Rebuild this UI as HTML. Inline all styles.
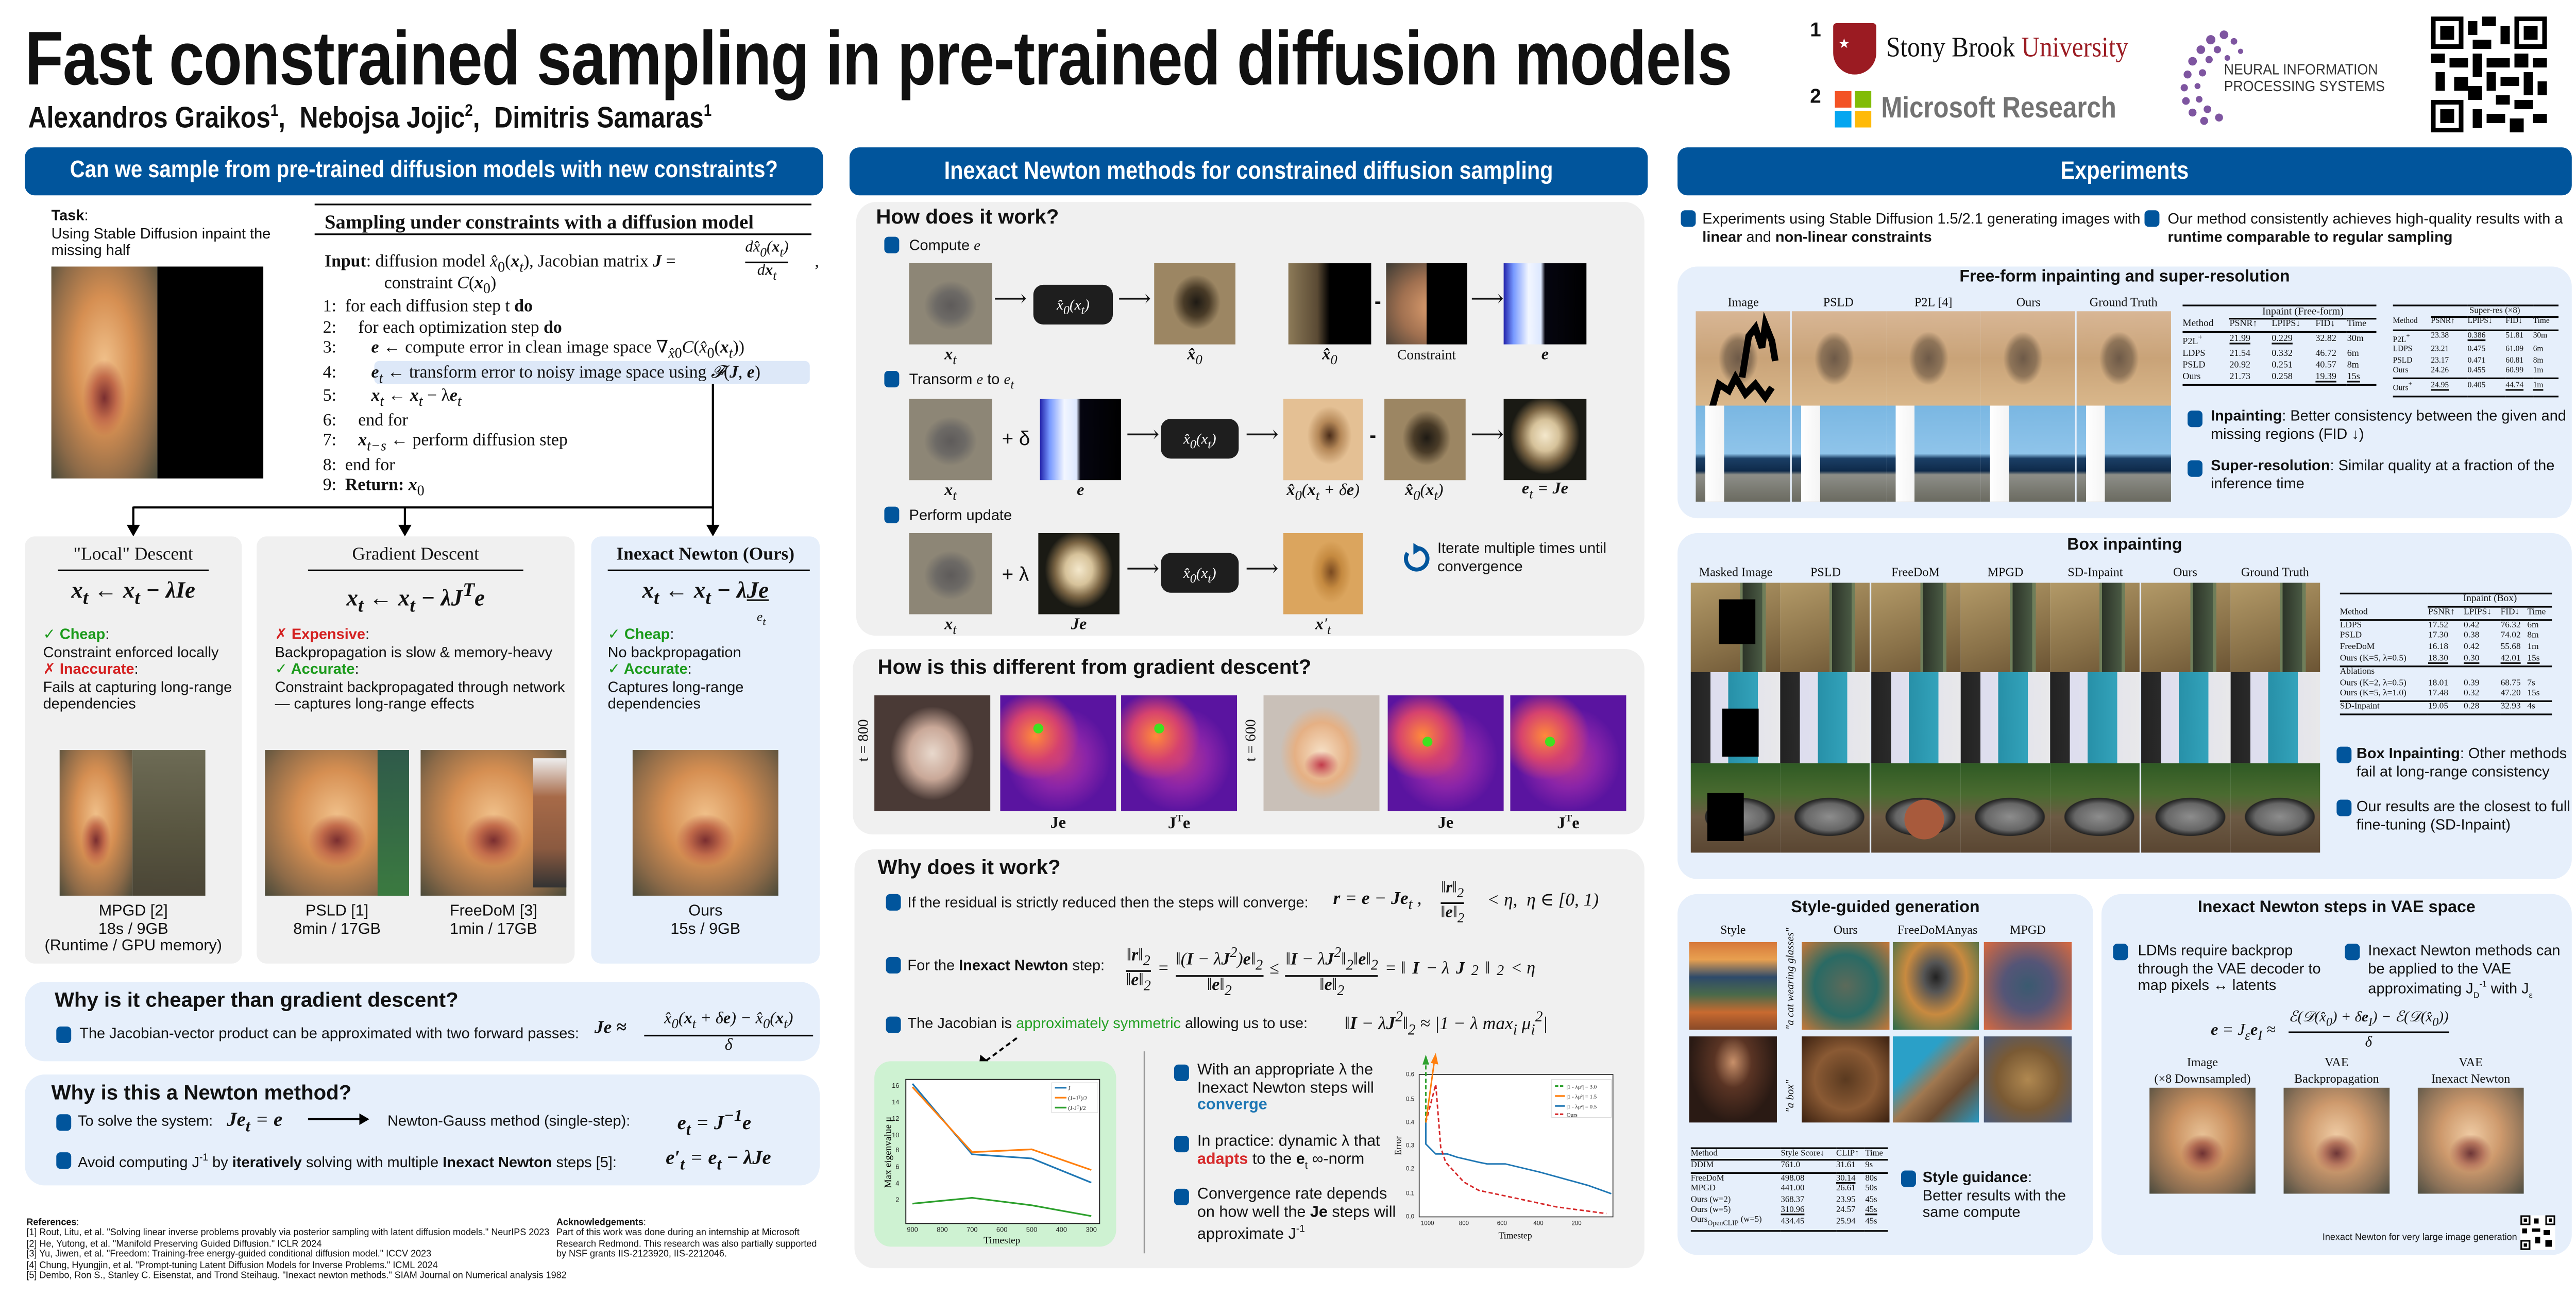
<!DOCTYPE html>
<html><head><meta charset="utf-8">
<style>
*{margin:0;padding:0;box-sizing:border-box}
html,body{width:5040px;height:2520px;overflow:hidden;background:#fff}
#p{position:absolute;left:0;top:0;width:1568px;height:784px;transform:scale(3.21429);transform-origin:0 0;font-family:"Liberation Sans","DejaVu Sans",sans-serif;color:#111}
.a{position:absolute}
.s{font-family:"Liberation Serif","DejaVu Serif",serif}
.i{font-style:italic}
.b{font-weight:bold}
.hdr{position:absolute;top:89px;height:29px;background:#01559c;border-radius:6px;color:#fff;font-weight:bold;font-size:15px;line-height:29px;white-space:nowrap;overflow:hidden}
.hdr span{position:absolute;left:50%;top:0;transform:translateX(-50%) scaleX(0.86)}
.box{position:absolute;border-radius:12px}
.g{background:#f0f0f0}
.lb{background:#e6effb}
.bul{position:absolute;width:9px;height:10px;background:#01559c;border-radius:2.5px}
.t9{font-size:9px;line-height:10.5px}
.t10{font-size:10px;line-height:11.5px}
.h{font-weight:bold;font-size:12.5px}
.cat{background:radial-gradient(ellipse 45% 40% at 50% 62%,#7a2e30 0%,#c16a4a 25%,transparent 45%),radial-gradient(ellipse at 50% 45%,#f0c08a 0%,#d68f52 40%,#8c6a48 75%,#4a4a3a 100%)}
.noise{background:radial-gradient(ellipse 40% 38% at 50% 52%,#5e5b5a 0%,#6d6a66 45%,#8d8676 80%),#8d8676}
.blur{background:radial-gradient(ellipse 35% 40% at 52% 48%,#1e1a14 0%,#4a3c28 45%,#9c8663 85%),#a08a64}
.err{background:linear-gradient(90deg,#2222aa 0%,#7799ff 12%,#f2f6ff 30%,#dde8ff 45%,#050510 50%,#000 100%)}
.je{background:radial-gradient(ellipse 42% 48% at 50% 45%,#f4e8cc 0%,#d6c29a 40%,#7b6544 70%,#1a1a14 100%)}
.tan{background:radial-gradient(ellipse 35% 45% at 58% 45%,#4a2c18 0%,#b58858 40%,#e4c094 80%),#d8b182}
.xp{background:radial-gradient(ellipse 30% 45% at 60% 48%,#7a4a20 0%,#c58a40 45%,#dba55e 85%),#c8923f}
.heat{background:radial-gradient(circle at 30% 35%,#ff8a3a 0%,#d6426e 22%,transparent 40%),radial-gradient(ellipse 45% 45% at 50% 55%,#c0388a 0%,#8a24a8 55%,#5a14a0 100%)}
.wolf{background:radial-gradient(ellipse 28% 38% at 45% 50%,#6e5a48 0%,#8f7559 50%,transparent 75%),linear-gradient(180deg,#d8b695 0%,#c9a378 50%,#d9b78b 100%)}
.lh{background:linear-gradient(90deg,transparent 10%,#fff 10%,#f4f4f4 30%,transparent 30%),linear-gradient(180deg,#7ab7e2 0%,#8fc4ea 50%,#1b3f66 55%,#0e2a4a 68%,#8d8e88 72%,#6a6a60 100%)}
.wall{background:linear-gradient(90deg,transparent 55%,#6f7e5a 55%,#6f7e5a 58%,#2c3428 58%,#4a5a44 80%,#6f7e5a 80%,#6f7e5a 84%,transparent 84%),linear-gradient(160deg,#b39a68,#8a7249 60%,#6b5434)}
.coat{background:linear-gradient(90deg,transparent 42%,#2790a8 42%,#33a3bb 75%,transparent 75%),linear-gradient(90deg,#222 0%,#2a2a2a 22%,#dde 22%,#e8e8ea 100%)}
.badger{background:radial-gradient(ellipse 55% 30% at 55% 60%,#8d8d8d 0%,#666 50%,#222 70%,transparent 72%),linear-gradient(180deg,#2f5a24 0%,#4a6b30 35%,#6c5a44 60%,#5a4632 100%)}
.k{background:#000}
table{border-collapse:collapse}
</style></head><body><div id="p">

<div class="a b" style="left:15px;top:8px;font-size:46px;white-space:nowrap;transform:scaleX(0.83);transform-origin:0 0;letter-spacing:-0.5px">Fast constrained sampling in pre-trained diffusion models</div>
<div class="a b" style="left:17px;top:61px;font-size:18px;white-space:nowrap;transform:scaleX(0.86);transform-origin:0 0">Alexandros Graikos<sup style="font-size:10px">1</sup>,&nbsp; Nebojsa Jojic<sup style="font-size:10px">2</sup>,&nbsp; Dimitris Samaras<sup style="font-size:10px">1</sup></div>

<div class="a b" style="left:1093px;top:11px;font-size:12px">1</div>
<div class="a b" style="left:1093px;top:51px;font-size:12px">2</div>
<div class="a" style="left:1107px;top:14px;width:26px;height:31px;background:#9b1b22;border-radius:2px 2px 13px 13px"></div>
<div class="a" style="left:1110px;top:22px;color:#fff;font-size:8px">★</div>
<div class="a s" style="left:1139px;top:19px;font-size:17px;white-space:nowrap;transform:scaleX(0.9);transform-origin:0 0">Stony Brook <span style="color:#9b1b22">University</span></div>
<div class="a" style="left:1108px;top:55px;width:10px;height:10px;background:#f35325"></div>
<div class="a" style="left:1120px;top:55px;width:10px;height:10px;background:#81bc06"></div>
<div class="a" style="left:1108px;top:67px;width:10px;height:10px;background:#05a6f0"></div>
<div class="a" style="left:1120px;top:67px;width:10px;height:10px;background:#ffba08"></div>
<div class="a b" style="left:1136px;top:55px;font-size:18px;color:#737373;white-space:nowrap;transform:scaleX(0.85);transform-origin:0 0">Microsoft Research</div>
<svg class="a" style="left:1315px;top:16px" width="56" height="60" viewBox="0 0 56 60">
<g fill="#7e55a0">
<circle cx="28" cy="5" r="2.6"/><circle cx="20" cy="8" r="2.8"/><circle cx="34" cy="9" r="2"/><circle cx="14" cy="14" r="2.6"/><circle cx="24" cy="14" r="2.2"/><circle cx="38" cy="15" r="1.6"/><circle cx="9" cy="21" r="2.6"/><circle cx="19" cy="20" r="2.2"/><circle cx="30" cy="19" r="1.7"/><circle cx="6" cy="29" r="2.4"/><circle cx="15" cy="28" r="2.2"/><circle cx="4" cy="37" r="2.2"/><circle cx="12" cy="36" r="1.8"/><circle cx="5" cy="45" r="2.3"/><circle cx="13" cy="44" r="2"/><circle cx="9" cy="52" r="2.4"/><circle cx="18" cy="50" r="2.3"/><circle cx="16" cy="57" r="2.4"/><circle cx="25" cy="55" r="2.4"/></g></svg>
<div class="a" style="left:1343px;top:37px;font-size:9px;line-height:10px;color:#333;white-space:nowrap;transform:scaleX(0.92);transform-origin:0 0">NEURAL INFORMATION<br>PROCESSING SYSTEMS</div>
<svg class="a" style="left:1468px;top:10px" width="70" height="70" viewBox="0 0 25 25" shape-rendering="crispEdges">
<rect width="25" height="25" fill="#fff"/>
<g fill="#000"><rect x="0" y="0" width="7" height="7"/><rect x="18" y="0" width="7" height="7"/><rect x="0" y="18" width="7" height="7"/></g>
<g fill="#fff"><rect x="1" y="1" width="5" height="5"/><rect x="19" y="1" width="5" height="5"/><rect x="1" y="19" width="5" height="5"/></g>
<g fill="#000"><rect x="2" y="2" width="3" height="3"/><rect x="20" y="2" width="3" height="3"/><rect x="2" y="20" width="3" height="3"/>
<rect x="8" y="1" width="2" height="3"/><rect x="11" y="0" width="3" height="2"/><rect x="15" y="2" width="2" height="4"/><rect x="9" y="5" width="4" height="2"/><rect x="0" y="8" width="3" height="2"/><rect x="4" y="9" width="4" height="2"/><rect x="9" y="8" width="2" height="5"/><rect x="12" y="9" width="5" height="2"/><rect x="18" y="8" width="3" height="3"/><rect x="22" y="9" width="3" height="2"/><rect x="1" y="12" width="2" height="4"/><rect x="5" y="13" width="3" height="3"/><rect x="12" y="12" width="2" height="4"/><rect x="15" y="13" width="4" height="2"/><rect x="20" y="12" width="2" height="5"/><rect x="23" y="14" width="2" height="3"/><rect x="8" y="15" width="3" height="3"/><rect x="14" y="17" width="3" height="2"/><rect x="18" y="18" width="4" height="2"/><rect x="9" y="20" width="2" height="4"/><rect x="12" y="21" width="4" height="2"/><rect x="17" y="22" width="3" height="3"/><rect x="22" y="21" width="3" height="2"/></g></svg>

<!-- ===== Column 1 ===== -->
<div class="hdr" style="left:15px;width:482px;font-size:14.5px"><span>Can we sample from pre-trained diffusion models with new constraints?</span></div>
<div class="a t9" style="left:31px;top:125px;width:140px"><b>Task</b>:<br>Using Stable Diffusion inpaint the missing half</div>
<div class="a cat" style="left:31px;top:161px;width:64px;height:128px"></div>
<div class="a k" style="left:95px;top:161px;width:64px;height:128px"></div>

<div class="a" style="left:190px;top:123px;width:300px;border-top:1.2px solid #000"></div>
<div class="a s b" style="left:196px;top:127px;font-size:12px;white-space:nowrap">Sampling under constraints with a diffusion model</div>
<div class="a" style="left:190px;top:141px;width:300px;border-top:1px solid #000"></div>
<div class="a s" style="left:196px;top:152px;font-size:10.5px;line-height:13px;white-space:nowrap"><b>Input</b>: diffusion model <i>x̂</i><sub>0</sub>(<i><b>x</b><sub>t</sub></i>), Jacobian matrix <i><b>J</b></i> = </div>
<div class="a s i" style="left:450px;top:145px;font-size:9.5px;line-height:11px;text-align:center"><div style="border-bottom:0.8px solid #000"><i>dx̂</i><sub>0</sub>(<b>x</b><sub>t</sub>)</div><i>d<b>x</b><sub>t</sub></i></div>
<div class="a s" style="left:492px;top:153px;font-size:10.5px">,</div>
<div class="a s" style="left:232px;top:166px;font-size:10.5px;white-space:nowrap">constraint <i>C</i>(<i><b>x</b></i><sub>0</sub>)</div>
<div class="a" style="left:226px;top:218px;width:263px;height:14px;background:#dde8f8;border-radius:3px"></div>
<div class="a s" style="left:195px;top:180px;font-size:10.5px;line-height:12.5px;white-space:nowrap">
<div>1:&nbsp; for each diffusion step t <b>do</b></div>
<div>2:&nbsp;&nbsp;&nbsp;&nbsp; for each optimization step <b>do</b></div>
<div>3:&nbsp;&nbsp;&nbsp;&nbsp;&nbsp;&nbsp;&nbsp; <i><b>e</b></i> ← compute error in clean image space ∇<sub><i>x̂</i>0</sub><i>C</i>(<i>x̂</i><sub>0</sub>(<i><b>x</b><sub>t</sub></i>))</div>
<div>4:&nbsp;&nbsp;&nbsp;&nbsp;&nbsp;&nbsp;&nbsp; <i><b>e</b><sub>t</sub></i> ← transform error to noisy image space using <i>𝓕</i>(<i><b>J</b></i>, <i><b>e</b></i>)</div>
<div>5:&nbsp;&nbsp;&nbsp;&nbsp;&nbsp;&nbsp;&nbsp; <i><b>x</b><sub>t</sub></i> ← <i><b>x</b><sub>t</sub></i> − λ<i><b>e</b><sub>t</sub></i></div>
<div>6:&nbsp;&nbsp;&nbsp;&nbsp; end for</div>
<div>7:&nbsp;&nbsp;&nbsp;&nbsp; <i><b>x</b><sub>t−s</sub></i> ← perform diffusion step</div>
<div>8:&nbsp; end for</div>
<div>9:&nbsp; <b>Return:</b> <i><b>x</b></i><sub>0</sub></div></div>

<svg class="a" style="left:0;top:0" width="500" height="340">
<g stroke="#000" stroke-width="1.3" fill="none"><path d="M430.5 232V306.5M80.5 306.5H430.5M80.5 306V318M244.5 306V318M430.5 306V318"/></g>
<g fill="#000"><path d="M76.5 317h8l-4 7z"/><path d="M240.5 317h8l-4 7z"/><path d="M426.5 317h8l-4 7z"/></g></svg>

<div class="box g" style="left:15px;top:324px;width:131px;height:258px;border-radius:6px"></div>
<div class="box g" style="left:155px;top:324px;width:192px;height:258px;border-radius:6px"></div>
<div class="box lb" style="left:357px;top:324px;width:138px;height:258px;border-radius:6px"></div>
<div class="a s" style="left:15px;top:329px;width:131px;text-align:center;font-size:11px">"Local" Descent</div>
<div class="a s" style="left:155px;top:329px;width:192px;text-align:center;font-size:11px">Gradient Descent</div>
<div class="a s b" style="left:357px;top:329px;width:138px;text-align:center;font-size:11px">Inexact Newton (Ours)</div>
<div class="a" style="left:35px;top:344px;width:91px;border-top:1px solid #000"></div>
<div class="a" style="left:186px;top:344px;width:130px;border-top:1px solid #000"></div>
<div class="a" style="left:367px;top:344px;width:122px;border-top:1px solid #000"></div>
<div class="a s i b" style="left:15px;top:350px;width:131px;text-align:center;font-size:14px">x<sub>t</sub> ← x<sub>t</sub> − λIe</div>
<div class="a s i b" style="left:155px;top:350px;width:192px;text-align:center;font-size:14px">x<sub>t</sub> ← x<sub>t</sub> − λJ<sup>T</sup>e</div>
<div class="a s i b" style="left:357px;top:350px;width:138px;text-align:center;font-size:14px">x<sub>t</sub> ← x<sub>t</sub> − λ<span style="text-decoration:underline">Je</span></div>
<div class="a s i" style="left:457px;top:368px;font-size:8px">e<sub>t</sub></div>

<div class="a t9" style="left:26px;top:378px;width:120px"><span style="color:#1a9a1a" class="b">✓ Cheap</span>:<br>Constraint enforced locally<br><span style="color:#d42020" class="b">✗ Inaccurate</span>:<br>Fails at capturing long-range dependencies</div>
<div class="a t9" style="left:166px;top:378px;width:180px"><span style="color:#d42020" class="b">✗ Expensive</span>:<br>Backpropagation is slow &amp; memory-heavy<br><span style="color:#1a9a1a" class="b">✓ Accurate</span>:<br>Constraint backpropagated through network — captures long-range effects</div>
<div class="a t9" style="left:367px;top:378px;width:120px"><span style="color:#1a9a1a" class="b">✓ Cheap</span>:<br>No backpropagation<br><span style="color:#1a9a1a" class="b">✓ Accurate</span>:<br>Captures long-range dependencies</div>

<div class="a cat" style="left:36px;top:453px;width:44px;height:88px"></div>
<div class="a" style="left:80px;top:453px;width:44px;height:88px;background:linear-gradient(180deg,#6d6b55,#57543f 60%,#4a4536)"></div>
<div class="a cat" style="left:160px;top:453px;width:87px;height:88px"></div>
<div class="a" style="left:228px;top:453px;width:19px;height:88px;background:linear-gradient(180deg,#2f5a4a,#3b7a40)"></div>
<div class="a cat" style="left:254px;top:453px;width:88px;height:88px"></div>
<div class="a" style="left:322px;top:458px;width:20px;height:78px;background:linear-gradient(180deg,#eee,#a76a48 30%,#8b5a40 70%,#333)"></div>
<div class="a cat" style="left:382px;top:453px;width:88px;height:88px"></div>
<div class="a t9" style="left:15px;top:546px;width:131px;text-align:center;font-size:9.5px">MPGD [2]<br>18s / 9GB<br>(Runtime / GPU memory)</div>
<div class="a t9" style="left:160px;top:546px;width:87px;text-align:center;font-size:9.5px">PSLD [1]<br>8min / 17GB</div>
<div class="a t9" style="left:254px;top:546px;width:88px;text-align:center;font-size:9.5px">FreeDoM [3]<br>1min / 17GB</div>
<div class="a t9" style="left:357px;top:546px;width:138px;text-align:center;font-size:9.5px">Ours<br>15s / 9GB</div>

<div class="box lb" style="left:15px;top:593px;width:480px;height:48px"></div>
<div class="a h" style="left:33px;top:597px">Why is it cheaper than gradient descent?</div>
<div class="bul" style="left:34px;top:620px"></div>
<div class="a t9" style="left:48px;top:619px;white-space:nowrap">The Jacobian-vector product can be approximated with two forward passes:</div>
<div class="a s i b" style="left:359px;top:615px;font-size:11px">Je ≈</div>
<div class="a s i" style="left:389px;top:610px;font-size:10px;text-align:center;width:102px;line-height:12px"><div style="border-bottom:0.8px solid #000">x̂<sub>0</sub>(<b>x</b><sub>t</sub> + δ<b>e</b>) − x̂<sub>0</sub>(<b>x</b><sub>t</sub>)</div>δ</div>

<div class="box lb" style="left:15px;top:649px;width:480px;height:67px"></div>
<div class="a h" style="left:31px;top:653px">Why is this a Newton method?</div>
<div class="bul" style="left:34px;top:673px"></div>
<div class="a t9" style="left:47px;top:672px;white-space:nowrap">To solve the system:</div>
<div class="a s i b" style="left:137px;top:669px;font-size:12px">Je<sub>t</sub> <span style="font-weight:normal">=</span> e</div>
<svg class="a" style="left:185px;top:671px" width="40" height="10"><path d="M1 5H33" stroke="#000" stroke-width="1.2"/><path d="M32 1.5L38 5L32 8.5z"/></svg>
<div class="a t9" style="left:234px;top:672px;white-space:nowrap">Newton-Gauss method (single-step):</div>
<div class="a s i b" style="left:409px;top:669px;font-size:12px">e<sub>t</sub> <span style="font-weight:normal">=</span> J<sup>−1</sup>e</div>
<div class="bul" style="left:34px;top:696px"></div>
<div class="a t9" style="left:47px;top:695px;white-space:nowrap">Avoid computing J<sup style="font-size:6px">-1</sup> by <b>iteratively</b> solving with multiple <b>Inexact Newton</b> steps [5]:</div>
<div class="a s i b" style="left:402px;top:692px;font-size:12px">e′<sub>t</sub> <span style="font-weight:normal">=</span> e<sub>t</sub> − λJe</div>

<div class="a" style="left:16px;top:736px;font-size:5.6px;line-height:6.4px;white-space:nowrap"><b>References</b>:<br>[1] Rout, Litu, et al. "Solving linear inverse problems provably via posterior sampling with latent diffusion models." NeurIPS 2023<br>[2] He, Yutong, et al. "Manifold Preserving Guided Diffusion." ICLR 2024<br>[3] Yu, Jiwen, et al. "Freedom: Training-free energy-guided conditional diffusion model." ICCV 2023<br>[4] Chung, Hyungjin, et al. "Prompt-tuning Latent Diffusion Models for Inverse Problems." ICML 2024<br>[5] Dembo, Ron S., Stanley C. Eisenstat, and Trond Steihaug. "Inexact newton methods." SIAM Journal on Numerical analysis 1982</div>
<div class="a" style="left:336px;top:736px;font-size:5.6px;line-height:6.4px;width:160px"><b>Acknowledgements</b>:<br>Part of this work was done during an internship at Microsoft Research Redmond. This research was also partially supported by NSF grants IIS-2123920, IIS-2212046.</div>

<!-- ===== Column 2 ===== -->
<div class="hdr" style="left:513px;width:482px"><span>Inexact Newton methods for constrained diffusion sampling</span></div>
<div class="box g" style="left:517px;top:122px;width:476px;height:262px"></div>
<div class="a h" style="left:529px;top:124px">How does it work?</div>
<div class="bul" style="left:534px;top:143px"></div><div class="a t9" style="left:549px;top:143px">Compute <i class="s">e</i></div>
<div class="a noise" style="left:549px;top:159px;width:50px;height:49px"></div>
<div class="a" style="left:624px;top:172px;width:48px;height:24px;background:#1e1e1e;border-radius:6px;color:#fff;text-align:center;line-height:24px;font-size:9px" ><span class="s i">x̂<sub>0</sub>(x<sub>t</sub>)</span></div>
<div class="a blur" style="left:697px;top:159px;width:49px;height:49px"></div>
<div class="a" style="left:778px;top:159px;width:50px;height:49px;background:linear-gradient(90deg,#8c7a58 0%,#5a4a34 35%,#000 50%,#000 100%)"></div>
<div class="a" style="left:837px;top:159px;width:49px;height:49px;background:linear-gradient(90deg,transparent 50%,#000 50%),radial-gradient(ellipse at 60% 55%,#e0a070,#a07050 50%,#3c3a34)"></div>
<div class="a err" style="left:908px;top:159px;width:50px;height:49px"></div>
<div class="a" style="left:830px;top:175px;font-size:12px;font-weight:bold">-</div>
<div class="a s" style="left:600px;top:173px;font-size:14px">⟶</div>
<div class="a s" style="left:675px;top:173px;font-size:14px">⟶</div>
<div class="a s" style="left:888px;top:173px;font-size:14px">⟶</div>
<div class="a s i" style="left:549px;top:209px;width:50px;text-align:center;font-size:10px"><b>x</b><sub>t</sub></div>
<div class="a s i" style="left:697px;top:209px;width:49px;text-align:center;font-size:10px"><b>x̂</b><sub>0</sub></div>
<div class="a s i" style="left:778px;top:209px;width:50px;text-align:center;font-size:10px"><b>x̂</b><sub>0</sub></div>
<div class="a s" style="left:837px;top:209px;width:49px;text-align:center;font-size:8.5px">Constraint</div>
<div class="a s i" style="left:908px;top:209px;width:50px;text-align:center;font-size:10px"><b>e</b></div>

<div class="bul" style="left:534px;top:224px"></div><div class="a t9" style="left:549px;top:224px">Transorm <i class="s">e</i> to <i class="s">e<sub>t</sub></i></div>
<div class="a noise" style="left:549px;top:241px;width:50px;height:49px"></div>
<div class="a" style="left:605px;top:258px;font-size:12px">+ δ</div>
<div class="a err" style="left:628px;top:241px;width:49px;height:49px"></div>
<div class="a s" style="left:680px;top:255px;font-size:14px">⟶</div>
<div class="a" style="left:701px;top:253px;width:47px;height:24px;background:#1e1e1e;border-radius:6px;color:#fff;text-align:center;line-height:24px;font-size:9px"><span class="s i">x̂<sub>0</sub>(x<sub>t</sub>)</span></div>
<div class="a s" style="left:752px;top:255px;font-size:14px">⟶</div>
<div class="a tan" style="left:775px;top:241px;width:48px;height:49px"></div>
<div class="a" style="left:827px;top:256px;font-size:12px;font-weight:bold">-</div>
<div class="a blur" style="left:836px;top:241px;width:49px;height:49px"></div>
<div class="a s" style="left:888px;top:255px;font-size:14px">⟶</div>
<div class="a je" style="left:908px;top:241px;width:50px;height:49px"></div>
<div class="a s i" style="left:549px;top:291px;width:50px;text-align:center;font-size:10px"><b>x</b><sub>t</sub></div>
<div class="a s i" style="left:628px;top:291px;width:49px;text-align:center;font-size:10px"><b>e</b></div>
<div class="a s i" style="left:765px;top:291px;width:68px;text-align:center;font-size:10px"><b>x̂</b><sub>0</sub>(<b>x</b><sub>t</sub> + δ<b>e</b>)</div>
<div class="a s i" style="left:830px;top:291px;width:60px;text-align:center;font-size:10px"><b>x̂</b><sub>0</sub>(<b>x</b><sub>t</sub>)</div>
<div class="a s i" style="left:900px;top:290px;width:66px;text-align:center;font-size:10px"><b>e</b><sub>t</sub> = <b>Je</b></div>

<div class="bul" style="left:534px;top:306px"></div><div class="a t9" style="left:549px;top:306px">Perform update</div>
<div class="a noise" style="left:549px;top:322px;width:50px;height:49px"></div>
<div class="a" style="left:605px;top:340px;font-size:12px">+ λ</div>
<div class="a je" style="left:627px;top:322px;width:49px;height:49px"></div>
<div class="a s" style="left:680px;top:336px;font-size:14px">⟶</div>
<div class="a" style="left:701px;top:334px;width:47px;height:24px;background:#1e1e1e;border-radius:6px;color:#fff;text-align:center;line-height:24px;font-size:9px"><span class="s i">x̂<sub>0</sub>(x<sub>t</sub>)</span></div>
<div class="a s" style="left:752px;top:336px;font-size:14px">⟶</div>
<div class="a xp" style="left:775px;top:322px;width:48px;height:49px"></div>
<div class="a s i" style="left:549px;top:372px;width:50px;text-align:center;font-size:10px"><b>x</b><sub>t</sub></div>
<div class="a s i" style="left:627px;top:372px;width:49px;text-align:center;font-size:10px"><b>Je</b></div>
<div class="a s i" style="left:775px;top:372px;width:48px;text-align:center;font-size:10px"><b>x</b>′<sub>t</sub></div>
<svg class="a" style="left:846px;top:328px" width="18" height="18" viewBox="0 0 18 18"><path d="M10 3A6.5 6.5 0 1 1 4 6" fill="none" stroke="#01559c" stroke-width="2.4"/><path d="M7.5 0L13 3.5L7.5 7z" fill="#01559c"/></svg>
<div class="a t9" style="left:868px;top:326px;width:120px">Iterate multiple times until convergence</div>

<div class="box g" style="left:515px;top:392px;width:478px;height:112px"></div>
<div class="a h" style="left:530px;top:396px">How is this different from gradient descent?</div>
<div class="a s" style="left:516px;top:460px;font-size:9px;transform:rotate(-90deg);transform-origin:0 0;white-space:nowrap">t = 800</div>
<div class="a s" style="left:750px;top:460px;font-size:9px;transform:rotate(-90deg);transform-origin:0 0;white-space:nowrap">t = 600</div>
<div class="a" style="left:528px;top:420px;width:70px;height:70px;background:radial-gradient(ellipse 40% 45% at 50% 50%,#e8d8cc,#c9a898 50%,#4a3a36 90%)"></div>
<div class="a heat" style="left:604px;top:420px;width:70px;height:70px"></div>
<div class="a heat" style="left:677px;top:420px;width:70px;height:70px"></div>
<div class="a" style="left:763px;top:420px;width:70px;height:70px;background:radial-gradient(ellipse 15% 12% at 50% 60%,#c23a4a,transparent),radial-gradient(ellipse 42% 48% at 50% 50%,#f6e0c6,#e5b084 55%,#c9c0b8 85%)"></div>
<div class="a heat" style="left:838px;top:420px;width:70px;height:70px"></div>
<div class="a heat" style="left:912px;top:420px;width:70px;height:70px"></div>
<div class="a" style="left:624px;top:437px;width:6px;height:6px;border-radius:50%;background:#40e020"></div>
<div class="a" style="left:697px;top:437px;width:6px;height:6px;border-radius:50%;background:#40e020"></div>
<div class="a" style="left:859px;top:445px;width:6px;height:6px;border-radius:50%;background:#40e020"></div>
<div class="a" style="left:933px;top:445px;width:6px;height:6px;border-radius:50%;background:#40e020"></div>
<div class="a s b" style="left:604px;top:492px;width:70px;text-align:center;font-size:10px">Je</div>
<div class="a s b" style="left:677px;top:492px;width:70px;text-align:center;font-size:10px">J<sup style="font-size:6px">T</sup>e</div>
<div class="a s b" style="left:838px;top:492px;width:70px;text-align:center;font-size:10px">Je</div>
<div class="a s b" style="left:912px;top:492px;width:70px;text-align:center;font-size:10px">J<sup style="font-size:6px">T</sup>e</div>

<div class="box g" style="left:516px;top:513px;width:477px;height:253px"></div>
<div class="a h" style="left:530px;top:517px">Why does it work?</div>
<div class="bul" style="left:535px;top:540px"></div>
<div class="a t9" style="left:548px;top:540px;white-space:nowrap">If the residual is strictly reduced then the steps will converge:</div>
<div class="a s i" style="left:805px;top:537px;font-size:11px;white-space:nowrap"><b>r</b> = <b>e</b> − <b>Je</b><sub>t</sub> ,</div>
<div class="a s i" style="left:870px;top:531px;font-size:10px;line-height:11px;text-align:center"><div style="border-bottom:0.8px solid #000">‖<b>r</b>‖<sub>2</sub></div>‖<b>e</b>‖<sub>2</sub></div>
<div class="a s i" style="left:898px;top:537px;font-size:11px;white-space:nowrap">&lt; η,&nbsp; η ∈ [0, 1)</div>
<div class="bul" style="left:535px;top:578px"></div>
<div class="a t9" style="left:548px;top:578px;white-space:nowrap">For the <b>Inexact Newton</b> step:</div>
<div class="a s i" style="left:680px;top:569px;font-size:10.5px;line-height:12px;white-space:nowrap;display:flex;align-items:center;gap:4px">
<span style="text-align:center;display:inline-block"><span style="display:block;border-bottom:0.8px solid #000">‖<b>r</b>‖<sub>2</sub></span>‖<b>e</b>‖<sub>2</sub></span> =
<span style="text-align:center;display:inline-block"><span style="display:block;border-bottom:0.8px solid #000">‖(<b>I</b> − λ<b>J</b><sup>2</sup>)<b>e</b>‖<sub>2</sub></span>‖<b>e</b>‖<sub>2</sub></span> ≤
<span style="text-align:center;display:inline-block"><span style="display:block;border-bottom:0.8px solid #000">‖<b>I</b> − λ<b>J</b><sup>2</sup>‖<sub>2</sub>‖<b>e</b>‖<sub>2</sub></span>‖<b>e</b>‖<sub>2</sub></span> = ‖<b>I</b> − λ<b>J</b><sup>2</sup>‖<sub>2</sub> &lt; η</div>
<div class="bul" style="left:535px;top:614px"></div>
<div class="a t9" style="left:548px;top:613px;white-space:nowrap">The Jacobian is <span style="color:#22a022">approximately symmetric</span> allowing us to use:</div>
<div class="a s i" style="left:812px;top:609px;font-size:11px;white-space:nowrap">‖<b>I</b> − λ<b>J</b><sup>2</sup>‖<sub>2</sub> ≈ |1 − λ max<sub>i</sub> μ<sub>i</sub><sup>2</sup>|</div>

<svg class="a" style="left:0;top:0" width="1000" height="784">
<path d="M614 627L595 641" stroke="#000" stroke-width="1.2" stroke-dasharray="3,2"/><path d="M591 645L592 637L598 642z" fill="#000"/>
<rect x="528" y="641" width="146" height="112" rx="10" fill="#cef2d2"/>
<rect x="547" y="652" width="117" height="87" fill="#fff" stroke="#222" stroke-width="0.6"/>
<g font-family="Liberation Sans" font-size="4" fill="#222" text-anchor="middle">
<text x="551" y="744">900</text><text x="569" y="744">800</text><text x="587" y="744">700</text><text x="605" y="744">600</text><text x="623" y="744">500</text><text x="641" y="744">400</text><text x="659" y="744">300</text>
<text x="543" y="726" text-anchor="end">2</text><text x="543" y="716" text-anchor="end">4</text><text x="543" y="706" text-anchor="end">6</text><text x="543" y="696" text-anchor="end">8</text><text x="543" y="687" text-anchor="end">10</text><text x="543" y="677" text-anchor="end">12</text><text x="543" y="667" text-anchor="end">14</text><text x="543" y="657" text-anchor="end">16</text></g>
<text x="605" y="751" font-family="Liberation Serif" font-size="6" text-anchor="middle">Timestep</text>
<text x="540" y="696" font-family="Liberation Serif" font-size="6" text-anchor="middle" transform="rotate(-90 540 696)" dy="-2">Max eigenvalue μ</text>
<polyline points="551,654.6 587,697.2 623,699.7 659,714.3" fill="none" stroke="#1f77b4" stroke-width="1"/>
<polyline points="551,656.6 587,695.9 623,694.2 659,706.7" fill="none" stroke="#ff7f0e" stroke-width="1"/>
<polyline points="551,727.0 587,723.5 623,728.0 659,734.5" fill="none" stroke="#2ca02c" stroke-width="1"/>
<rect x="635" y="654" width="28" height="18" fill="#fff" stroke="#ddd" stroke-width="0.4"/>
<g stroke-width="1"><path d="M637 657h7" stroke="#1f77b4"/><path d="M637 663h7" stroke="#ff7f0e"/><path d="M637 669h7" stroke="#2ca02c"/></g>
<g font-family="Liberation Serif" font-size="3.6" fill="#222"><text x="645" y="658.5">J</text><text x="645" y="664.5">(J+J<tspan font-size="2.5" dy="-1">T</tspan><tspan dy="1">)/2</tspan></text><text x="645" y="670.5">(J-J<tspan font-size="2.5" dy="-1">T</tspan><tspan dy="1">)/2</tspan></text></g>
<path d="M691 635V757" stroke="#999" stroke-width="0.8"/>
<rect x="857" y="649" width="117" height="86" fill="#fff" stroke="#222" stroke-width="0.5"/>
<g font-family="Liberation Sans" font-size="3.6" fill="#222" text-anchor="middle">
<text x="862" y="740">1000</text><text x="884" y="740">800</text><text x="907" y="740">600</text><text x="929" y="740">400</text><text x="952" y="740">200</text>
<text x="854" y="736" text-anchor="end">0.0</text><text x="854" y="722" text-anchor="end">0.1</text><text x="854" y="707" text-anchor="end">0.2</text><text x="854" y="693" text-anchor="end">0.3</text><text x="854" y="679" text-anchor="end">0.4</text><text x="854" y="665" text-anchor="end">0.5</text><text x="854" y="650" text-anchor="end">0.6</text></g>
<text x="915" y="748" font-family="Liberation Serif" font-size="5.5" text-anchor="middle">Timestep</text>
<text x="846" y="692" font-family="Liberation Serif" font-size="5.5" text-anchor="middle" transform="rotate(-90 846 692)">Error</text>
<polyline points="861,678 861,691 867,697 874,697 880,699 893,702 898,703 909,703 930,708 959,716 973,721" fill="none" stroke="#1f77b4" stroke-width="0.9"/>
<polyline points="861,678 867,655 870,693 873,702 884,714 893,719 912,723 940,729 970,733" fill="none" stroke="#d62728" stroke-width="0.9" stroke-dasharray="2.5,1.5"/>
<path d="M861 678V642" stroke="#2ca02c" stroke-width="0.9" stroke-dasharray="2.5,1.5"/><path d="M859 643L861 637L863 643z" fill="#2ca02c"/>
<path d="M861 678L866 642" stroke="#ff7f0e" stroke-width="0.9"/><path d="M864 642L867 636L868.5 643z" fill="#ff7f0e"/>
<rect x="937" y="652" width="36" height="23" fill="#fff" stroke="#ddd" stroke-width="0.4"/>
<path d="M939 656h6" stroke="#2ca02c" stroke-dasharray="2,1"/><path d="M939 662h6" stroke="#ff7f0e"/><path d="M939 668h6" stroke="#1f77b4"/><path d="M939 673h6" stroke="#d62728" stroke-dasharray="2,1"/>
<g font-family="Liberation Serif" font-size="3.4" fill="#222"><text x="946" y="657.5">|1 - λμ²| = 3.0</text><text x="946" y="663.5">|1 - λμ²| = 1.5</text><text x="946" y="669.5">|1 - λμ²| = 0.5</text><text x="946" y="674.5">Ours</text></g>
</svg>
<div class="bul" style="left:709px;top:643px"></div>
<div class="a t9" style="left:723px;top:642px;width:120px;font-size:9.5px">With an appropriate λ the Inexact Newton steps will <b style="color:#1f77b4">converge</b></div>
<div class="bul" style="left:709px;top:686px"></div>
<div class="a t9" style="left:723px;top:685px;width:125px;font-size:9.5px">In practice: dynamic λ that <b style="color:#d62728">adapts</b> to the <b>e</b><sub style="font-size:6px">t</sub> ∞-norm</div>
<div class="bul" style="left:709px;top:718px"></div>
<div class="a t9" style="left:723px;top:717px;width:125px;font-size:9.5px">Convergence rate depends on how well the <b>Je</b> steps will approximate J<sup style="font-size:6px">-1</sup></div>

<!-- ===== Column 3 ===== -->
<div class="hdr" style="left:1013px;width:540px"><span>Experiments</span></div>
<div class="bul" style="left:1015px;top:127px"></div>
<div class="a t9" style="left:1028px;top:127px;width:270px">Experiments using Stable Diffusion 1.5/2.1 generating images with <b>linear</b> and <b>non-linear constraints</b></div>
<div class="bul" style="left:1295px;top:127px"></div>
<div class="a t9" style="left:1309px;top:127px;width:245px">Our method consistently achieves high-quality results with a <b>runtime comparable to regular sampling</b></div>

<div class="box lb" style="left:1013px;top:161px;width:540px;height:152px"></div>
<div class="a b" style="left:1013px;top:162px;width:540px;text-align:center;font-size:10px">Free-form inpainting and super-resolution</div>
<div class="a s" style="left:1024px;top:178px;width:287px;display:flex;font-size:7.5px;text-align:center"><span style="flex:1">Image</span><span style="flex:1">PSLD</span><span style="flex:1">P2L [4]</span><span style="flex:1">Ours</span><span style="flex:1">Ground Truth</span></div>
<div class="a wolf" style="left:1024px;top:188px;width:57px;height:57px"></div>
<div class="a wolf" style="left:1082px;top:188px;width:57px;height:57px"></div>
<div class="a wolf" style="left:1139px;top:188px;width:57px;height:57px"></div>
<div class="a wolf" style="left:1196px;top:188px;width:57px;height:57px"></div>
<div class="a wolf" style="left:1254px;top:188px;width:57px;height:57px"></div>
<svg class="a" style="left:1024px;top:188px" width="57" height="57"><path d="M28 40L32 15L36 10L40 22L42 8L46 18L48 30M10 58L14 44L20 48L24 40L30 50L36 44L42 52L46 46" stroke="#000" stroke-width="4" fill="none"/></svg>
<div class="a lh" style="left:1024px;top:245px;width:57px;height:58px"></div>
<div class="a lh" style="left:1082px;top:245px;width:57px;height:58px"></div>
<div class="a lh" style="left:1139px;top:245px;width:57px;height:58px"></div>
<div class="a lh" style="left:1196px;top:245px;width:57px;height:58px"></div>
<div class="a lh" style="left:1254px;top:245px;width:57px;height:58px"></div>

<table class="a s" style="left:1318px;top:184px;width:117px;font-size:5.6px;line-height:7px;border-top:0.7px solid #000;border-bottom:0.7px solid #000">
<tr><td></td><td colspan="4" style="text-align:center;font-size:6.3px;border-bottom:0.5px solid #000">Inpaint (Free-form)</td></tr>
<tr style="border-bottom:0.5px solid #000"><td style="font-size:6px">Method</td><td>PSNR↑</td><td>LPIPS↓</td><td>FID↓</td><td>Time</td></tr>
<tr><td>P2L<sup>+</sup></td><td><u>21.99</u></td><td><u>0.229</u></td><td>32.82</td><td>30m</td></tr>
<tr><td>LDPS</td><td>21.54</td><td>0.332</td><td>46.72</td><td>6m</td></tr>
<tr><td>PSLD</td><td>20.92</td><td>0.251</td><td>40.57</td><td>8m</td></tr>
<tr><td>Ours</td><td>21.73</td><td>0.258</td><td><u>19.39</u></td><td><u>15s</u></td></tr></table>
<table class="a s" style="left:1445px;top:184px;width:100px;font-size:4.8px;line-height:6.3px;border-top:0.7px solid #000;border-bottom:0.7px solid #000">
<tr><td></td><td colspan="4" style="text-align:center;font-size:5.3px;border-bottom:0.5px solid #000">Super-res (×8)</td></tr>
<tr style="border-bottom:0.5px solid #000"><td>Method</td><td>PSNR↑</td><td>LPIPS↓</td><td>FID↓</td><td>Time</td></tr>
<tr><td>P2L<sup>+</sup></td><td>23.38</td><td><u>0.386</u></td><td>51.81</td><td>30m</td></tr>
<tr><td>LDPS</td><td>23.21</td><td>0.475</td><td>61.09</td><td>6m</td></tr>
<tr><td>PSLD</td><td>23.17</td><td>0.471</td><td>60.81</td><td>8m</td></tr>
<tr style="border-bottom:0.5px solid #000"><td>Ours</td><td>24.26</td><td>0.455</td><td>60.99</td><td>1m</td></tr>
<tr><td>Ours<sup>+</sup></td><td><u>24.95</u></td><td>0.405</td><td><u>44.74</u></td><td><u>1m</u></td></tr></table>
<div class="bul" style="left:1321px;top:248px"></div>
<div class="a t9" style="left:1335px;top:246px;width:215px"><b>Inpainting</b>: Better consistency between the given and missing regions (FID ↓)</div>
<div class="bul" style="left:1321px;top:278px"></div>
<div class="a t9" style="left:1335px;top:276px;width:215px"><b>Super-resolution</b>: Similar quality at a fraction of the inference time</div>

<div class="box lb" style="left:1013px;top:322px;width:540px;height:209px"></div>
<div class="a b" style="left:1013px;top:324px;width:540px;text-align:center;font-size:10px">Box inpainting</div>
<div class="a s" style="left:1021px;top:341px;width:380px;display:flex;font-size:7.5px;text-align:center"><span style="flex:1">Masked Image</span><span style="flex:1">PSLD</span><span style="flex:1">FreeDoM</span><span style="flex:1">MPGD</span><span style="flex:1">SD-Inpaint</span><span style="flex:1">Ours</span><span style="flex:1">Ground Truth</span></div>
<div class="a" style="left:1021px;top:352px;width:380px;height:54px;display:flex"><div class="wall" style="flex:1;margin-right:.5px"></div><div class="wall" style="flex:1;margin-right:.5px"></div><div class="wall" style="flex:1;margin-right:.5px"></div><div class="wall" style="flex:1;margin-right:.5px"></div><div class="wall" style="flex:1;margin-right:.5px"></div><div class="wall" style="flex:1;margin-right:.5px"></div><div class="wall" style="flex:1"></div></div>
<div class="a" style="left:1021px;top:406px;width:380px;height:55px;display:flex"><div class="coat" style="flex:1;margin-right:.5px"></div><div class="coat" style="flex:1;margin-right:.5px"></div><div class="coat" style="flex:1;margin-right:.5px"></div><div class="coat" style="flex:1;margin-right:.5px"></div><div class="coat" style="flex:1;margin-right:.5px"></div><div class="coat" style="flex:1;margin-right:.5px"></div><div class="coat" style="flex:1"></div></div>
<div class="a" style="left:1021px;top:461px;width:380px;height:54px;display:flex"><div class="badger" style="flex:1;margin-right:.5px"></div><div class="badger" style="flex:1;margin-right:.5px"></div><div class="badger" style="flex:1;margin-right:.5px"></div><div class="badger" style="flex:1;margin-right:.5px"></div><div class="badger" style="flex:1;margin-right:.5px"></div><div class="badger" style="flex:1;margin-right:.5px"></div><div class="badger" style="flex:1"></div></div>
<div class="a k" style="left:1038px;top:362px;width:22px;height:27px"></div>
<div class="a k" style="left:1040px;top:428px;width:22px;height:29px"></div>
<div class="a k" style="left:1031px;top:479px;width:22px;height:29px"></div>
<div class="a" style="left:1150px;top:483px;width:24px;height:24px;border-radius:50%;background:#a85a3c"></div>

<table class="a s" style="left:1413px;top:358px;width:128px;font-size:5.4px;line-height:6.8px;border-top:0.7px solid #000;border-bottom:0.7px solid #000">
<tr><td></td><td colspan="4" style="text-align:center;font-size:6px;border-bottom:0.5px solid #000">Inpaint (Box)</td></tr>
<tr style="border-bottom:0.5px solid #000"><td>Method</td><td>PSNR↑</td><td>LPIPS↓</td><td>FID↓</td><td>Time</td></tr>
<tr><td>LDPS</td><td>17.52</td><td>0.42</td><td>76.32</td><td>6m</td></tr>
<tr><td>PSLD</td><td>17.30</td><td>0.38</td><td>74.02</td><td>8m</td></tr>
<tr><td>FreeDoM</td><td>16.18</td><td>0.42</td><td>55.68</td><td>1m</td></tr>
<tr style="border-bottom:0.6px solid #000"><td>Ours (K=5, λ=0.5)</td><td><u>18.30</u></td><td><u>0.30</u></td><td><u>42.01</u></td><td><u>15s</u></td></tr>
<tr><td>Ablations</td><td></td><td></td><td></td><td></td></tr>
<tr><td>Ours (K=2, λ=0.5)</td><td>18.01</td><td>0.39</td><td>68.75</td><td>7s</td></tr>
<tr style="border-bottom:0.6px solid #000"><td>Ours (K=5, λ=1.0)</td><td>17.48</td><td>0.32</td><td>47.20</td><td>15s</td></tr>
<tr><td>SD-Inpaint</td><td>19.05</td><td>0.28</td><td>32.93</td><td>4s</td></tr></table>
<div class="bul" style="left:1411px;top:451px"></div>
<div class="a t9" style="left:1423px;top:450px;width:130px"><b>Box Inpainting</b>: Other methods fail at long-range consistency</div>
<div class="bul" style="left:1411px;top:483px"></div>
<div class="a t9" style="left:1423px;top:482px;width:130px">Our results are the closest to full fine-tuning (SD-Inpaint)</div>

<div class="box lb" style="left:1013px;top:540px;width:251px;height:218px"></div>
<div class="a b" style="left:1013px;top:543px;width:251px;text-align:center;font-size:10px">Style-guided generation</div>
<div class="a s" style="left:1020px;top:557px;width:53px;text-align:center;font-size:7.5px">Style</div>
<div class="a s" style="left:1088px;top:557px;width:53px;text-align:center;font-size:7.5px">Ours</div>
<div class="a s" style="left:1141px;top:557px;width:58px;text-align:center;font-size:7.5px">FreeDoMAnyas</div>
<div class="a s" style="left:1198px;top:557px;width:53px;text-align:center;font-size:7.5px">MPGD</div>
<div class="a s i" style="left:1078px;top:622px;font-size:6.5px;transform:rotate(-90deg);transform-origin:0 0;white-space:nowrap">"a cat wearing glasses"</div>
<div class="a s i" style="left:1078px;top:672px;font-size:6.5px;transform:rotate(-90deg);transform-origin:0 0;white-space:nowrap">"a box"</div>
<div class="a" style="left:1020px;top:569px;width:53px;height:53px;background:linear-gradient(180deg,#d6783a 0%,#e8a050 20%,#2e4a6a 40%,#4a6a4a 60%,#c86a30 80%,#8a4a28 100%)"></div>
<div class="a" style="left:1088px;top:569px;width:53px;height:53px;background:radial-gradient(ellipse at 50% 50%,#5c6a5a,#2a6a64 50%,#c87838 100%)"></div>
<div class="a" style="left:1143px;top:569px;width:52px;height:53px;background:radial-gradient(ellipse at 50% 40%,#222 0%,#555 20%,#c88a40 50%,#2a6a4a 100%)"></div>
<div class="a" style="left:1198px;top:569px;width:53px;height:53px;background:radial-gradient(ellipse at 50% 50%,#3a5a70,#557 40%,#d86a40 100%)"></div>
<div class="a" style="left:1020px;top:626px;width:53px;height:52px;background:radial-gradient(ellipse at 50% 30%,#c8906a 0%,#5a3424 30%,#2a1a14 70%)"></div>
<div class="a" style="left:1088px;top:626px;width:53px;height:52px;background:radial-gradient(ellipse at 50% 50%,#5a3a20,#8a5a34 50%,#3a2010)"></div>
<div class="a" style="left:1143px;top:626px;width:52px;height:52px;background:linear-gradient(135deg,#2aa0c8 0%,#2aa0c8 30%,#a07850 50%,#6a4a30 70%,#2a98c0 100%)"></div>
<div class="a" style="left:1198px;top:626px;width:53px;height:52px;background:radial-gradient(ellipse at 50% 50%,#b08850,#7a5a34 50%,#4a5a7a)"></div>
<table class="a s" style="left:1021px;top:693px;width:119px;font-size:5.2px;line-height:6.4px;border-top:0.7px solid #000;border-bottom:0.7px solid #000">
<tr style="border-bottom:0.5px solid #000"><td>Method</td><td>Style Score↓</td><td>CLIP↑</td><td>Time</td></tr>
<tr style="border-bottom:0.5px solid #000"><td>DDIM</td><td>761.0</td><td>31.61</td><td>9s</td></tr>
<tr><td>FreeDoM</td><td>498.08</td><td><u>30.14</u></td><td>80s</td></tr>
<tr><td>MPGD</td><td>441.00</td><td>26.61</td><td>50s</td></tr>
<tr><td>Ours (w=2)</td><td>368.37</td><td>23.95</td><td>45s</td></tr>
<tr><td>Ours (w=5)</td><td><u>310.96</u></td><td>24.57</td><td><u>45s</u></td></tr>
<tr><td>Ours<sub>OpenCLIP</sub> (w=5)</td><td>434.45</td><td>25.94</td><td>45s</td></tr></table>
<div class="bul" style="left:1148px;top:707px"></div>
<div class="a t9" style="left:1161px;top:706px;width:100px"><b>Style guidance</b>:<br>Better results with the same compute</div>

<div class="box lb" style="left:1269px;top:540px;width:284px;height:218px"></div>
<div class="a b" style="left:1269px;top:543px;width:284px;text-align:center;font-size:10px">Inexact Newton steps in VAE space</div>
<div class="bul" style="left:1276px;top:570px"></div>
<div class="a t9" style="left:1291px;top:569px;width:120px">LDMs require backprop through the VAE decoder to map pixels ↔ latents</div>
<div class="bul" style="left:1416px;top:570px"></div>
<div class="a t9" style="left:1430px;top:569px;width:120px">Inexact Newton methods can be applied to the VAE approximating J<sub style="font-size:5px">D</sub><sup style="font-size:5px">-1</sup> with J<sub style="font-size:5px">ε</sub></div>
<div class="a s i" style="left:1335px;top:617px;font-size:10px;white-space:nowrap"><b>e</b> = J<sub>ε</sub><b>e</b><sub>I</sub> ≈</div>
<div class="a s i" style="left:1382px;top:609px;font-size:9px;line-height:11px;text-align:center;white-space:nowrap"><div style="border-bottom:0.8px solid #000">ℰ(𝒟(x̂<sub>0</sub>) + δ<b>e</b><sub>I</sub>) − ℰ(𝒟(x̂<sub>0</sub>))</div>δ</div>
<div class="a s" style="left:1290px;top:637px;width:80px;text-align:center;font-size:7.5px;line-height:9.5px">Image<br>(×8 Downsampled)</div>
<div class="a s" style="left:1371px;top:637px;width:80px;text-align:center;font-size:7.5px;line-height:9.5px">VAE<br>Backpropagation</div>
<div class="a s" style="left:1452px;top:637px;width:80px;text-align:center;font-size:7.5px;line-height:9.5px">VAE<br>Inexact Newton</div>
<div class="a cat" style="left:1298px;top:657px;width:64px;height:64px;filter:saturate(0.8)"></div>
<div class="a cat" style="left:1379px;top:657px;width:64px;height:64px;filter:saturate(0.7) brightness(1.05)"></div>
<div class="a cat" style="left:1460px;top:657px;width:64px;height:64px;filter:saturate(0.7) brightness(1.05)"></div>
<div class="a" style="left:1380px;top:745px;width:140px;text-align:right;font-size:5.6px">Inexact Newton for very large image generation</div>
<svg class="a" style="left:1522px;top:734px" width="21" height="21" viewBox="0 0 21 21" shape-rendering="crispEdges"><rect width="21" height="21" fill="#fff"/><g fill="#000"><rect width="6" height="6"/><rect x="15" width="6" height="6"/><rect y="15" width="6" height="6"/><rect x="8" y="2" width="3" height="3"/><rect x="7" y="8" width="5" height="2"/><rect x="14" y="9" width="4" height="3"/><rect x="9" y="13" width="3" height="4"/><rect x="15" y="15" width="4" height="4"/><rect x="1" y="8" width="3" height="3"/></g><g fill="#fff"><rect x="1" y="1" width="4" height="4"/><rect x="16" y="1" width="4" height="4"/><rect x="1" y="16" width="4" height="4"/></g><g fill="#000"><rect x="2" y="2" width="2" height="2"/><rect x="17" y="2" width="2" height="2"/><rect x="2" y="17" width="2" height="2"/></g></svg>

</div></body></html>
